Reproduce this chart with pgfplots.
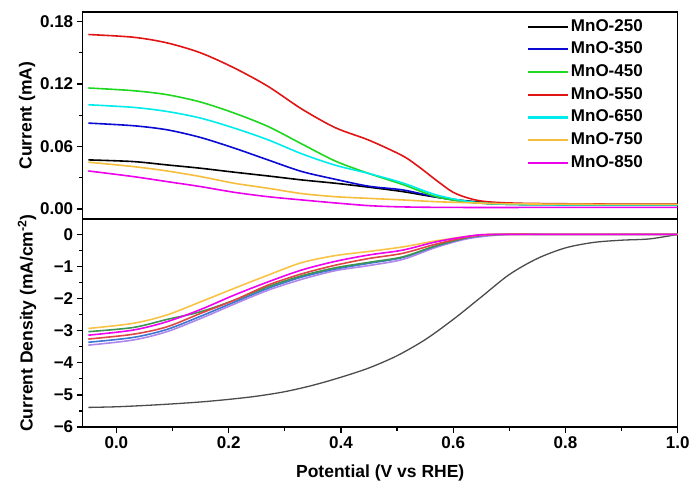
\documentclass[border=0pt]{standalone}
\usepackage{pgfplots}
\pgfplotsset{compat=1.18}
\usepackage{fontspec}
\setmainfont{Liberation Sans}

\definecolor{cblack}{RGB}{0,0,0}
\definecolor{cblue}{RGB}{10,10,210}
\definecolor{cgreen}{RGB}{30,215,30}
\definecolor{cred}{RGB}{225,20,20}
\definecolor{ccyan}{RGB}{0,235,235}
\definecolor{corange}{RGB}{245,190,60}
\definecolor{cmagenta}{RGB}{235,0,235}
% bottom panel
\definecolor{dgray}{RGB}{75,75,75}
\definecolor{dorange}{RGB}{248,195,70}
\definecolor{dgreen}{RGB}{60,150,80}
\definecolor{dmagenta}{RGB}{240,0,240}
\definecolor{dred}{RGB}{225,70,70}
\definecolor{dblue}{RGB}{60,120,210}
\definecolor{dpurple}{RGB}{175,135,235}

\pgfplotsset{
  panel/.style={
    scale only axis, width=595pt, height=207pt,
    xmin=-0.06, xmax=1.0,
    axis line style={line width=1.5pt},
    tick align=outside, tick pos=left,
    major tick length=6pt, minor tick length=3.5pt,
    every tick/.style={black, line width=1.2pt},
    ticklabel style={font=\bfseries\fontsize{17}{20}\selectfont},
    every axis y label/.style={at={(axis description cs:-0.0936,0.5)}, rotate=90, anchor=center,
      font=\bfseries\fontsize{17.5}{20}\selectfont},
    every axis x label/.style={at={(axis description cs:0.5,-0.221)}, anchor=center,
      font=\bfseries\fontsize{17.5}{20}\selectfont},
    /pgf/number format/assume math mode=true,
    every axis plot/.append style={line width=1.6pt, smooth, no markers},
  },
}

\begin{document}
\begin{tikzpicture}
\begin{axis}[panel, name=top,
  ymin=-0.0096, ymax=0.189,
  ytick={0,0.06,0.12,0.18}, minor y tick num=1,
  yticklabel style={/pgf/number format/.cd, fixed, fixed zerofill, precision=2},
  xtick=\empty,
  ylabel={Current (mA)},
  legend style={at={(axis description cs:0.95,0.988)}, anchor=north east,
    draw=none, fill=none, font=\bfseries\fontsize{17}{20}\selectfont,
    nodes={inner sep=2pt, text height=12.5pt, text depth=3.5pt}, row sep=2.7pt},
  legend cell align=left,
  legend image code/.code={\draw[#1, line width=2.1pt] (-2pt,0pt) -- (38pt,0pt);},
]
\addplot[draw=cblack] coordinates {(-0.05,0.0471) (0.03,0.0455) (0.09,0.0423) (0.15,0.0391) (0.21,0.0353) (0.27,0.0317) (0.33,0.0279) (0.39,0.0247) (0.45,0.0209) (0.51,0.0167) (0.57,0.0113) (0.63,0.0075) (0.7,0.005) (0.85,0.0045) (1.0,0.0045)};
\addlegendentry{MnO-250}
\addplot[draw=cblue] coordinates {(-0.05,0.0824) (0.03,0.0799) (0.09,0.076) (0.15,0.0686) (0.21,0.0584) (0.27,0.0471) (0.33,0.036) (0.39,0.0285) (0.45,0.0218) (0.51,0.0183) (0.57,0.0115) (0.63,0.0065) (0.7,0.0045) (0.85,0.004) (1.0,0.004)};
\addlegendentry{MnO-350}
\addplot[draw=cgreen] coordinates {(-0.05,0.1161) (0.03,0.1135) (0.09,0.1097) (0.15,0.1026) (0.21,0.092) (0.27,0.0792) (0.33,0.0625) (0.39,0.046) (0.45,0.034) (0.51,0.0235) (0.57,0.0118) (0.63,0.0065) (0.7,0.0045) (0.85,0.004) (1.0,0.004)};
\addlegendentry{MnO-450}
\addplot[draw=cred] coordinates {(-0.05,0.1674) (0.03,0.1648) (0.09,0.1594) (0.15,0.1498) (0.21,0.1353) (0.27,0.1177) (0.33,0.096) (0.39,0.078) (0.45,0.066) (0.51,0.051) (0.54,0.040) (0.57,0.0275) (0.60,0.016) (0.63,0.010) (0.66,0.007) (0.72,0.0055) (0.85,0.0048) (1.0,0.0045)};
\addlegendentry{MnO-550}
\addplot[draw=ccyan] coordinates {(-0.05,0.100) (0.03,0.0975) (0.09,0.0936) (0.15,0.0872) (0.21,0.0776) (0.27,0.0664) (0.33,0.053) (0.39,0.042) (0.45,0.034) (0.51,0.025) (0.57,0.0135) (0.63,0.007) (0.7,0.0045) (0.85,0.004) (1.0,0.004)};
\addlegendentry{MnO-650}
\addplot[draw=corange] coordinates {(-0.05,0.0449) (0.03,0.0407) (0.09,0.0365) (0.15,0.0311) (0.21,0.0247) (0.27,0.0199) (0.33,0.0148) (0.39,0.0118) (0.45,0.0102) (0.51,0.0087) (0.57,0.007) (0.63,0.006) (0.7,0.005) (0.85,0.0045) (1.0,0.0045)};
\addlegendentry{MnO-750}
\addplot[draw=cmagenta] coordinates {(-0.05,0.0365) (0.03,0.0311) (0.09,0.0263) (0.15,0.0215) (0.21,0.016) (0.27,0.0118) (0.33,0.0087) (0.39,0.0058) (0.45,0.0032) (0.51,0.002) (0.6,0.0015) (0.8,0.0015) (1.0,0.0015)};
\addlegendentry{MnO-850}
\end{axis}

\begin{axis}[panel, name=bot,
  at={([yshift=-10pt]top.south west)}, anchor=north west,
  height=208pt,
  ymin=-6, ymax=0.48,
  ytick={-6,-5,-4,-3,-2,-1,0}, minor y tick num=1,
  yticklabels={−6,−5,−4,−3,−2,−1,0},
  xtick={0,0.2,0.4,0.6,0.8,1.0}, minor x tick num=1,
  xticklabel style={/pgf/number format/.cd, fixed, fixed zerofill, precision=1},
  ylabel={Current Density (mA/cm\textsuperscript{-2})},
  xlabel={Potential (V vs RHE)},
]
\addplot[draw=dgray, line width=1.3pt] coordinates {(-0.05,-5.39) (0.0,-5.37) (0.05,-5.33) (0.1,-5.28) (0.15,-5.22) (0.2,-5.14) (0.25,-5.04) (0.3,-4.90) (0.35,-4.70) (0.40,-4.45) (0.45,-4.16) (0.50,-3.78) (0.55,-3.28) (0.60,-2.65) (0.65,-1.95) (0.70,-1.25) (0.75,-0.75) (0.80,-0.42) (0.85,-0.25) (0.90,-0.18) (0.95,-0.14) (1.0,0)};
\addplot[draw=dpurple] coordinates {(-0.05,-3.45) (0.03,-3.29) (0.09,-3.03) (0.15,-2.62) (0.21,-2.17) (0.27,-1.74) (0.33,-1.40) (0.39,-1.13) (0.45,-0.97) (0.51,-0.78) (0.57,-0.40) (0.63,-0.12) (0.70,0) (0.8,0) (1.0,0)};
\addplot[draw=dblue] coordinates {(-0.05,-3.36) (0.03,-3.21) (0.09,-2.96) (0.15,-2.55) (0.21,-2.11) (0.27,-1.68) (0.33,-1.33) (0.39,-1.08) (0.45,-0.90) (0.51,-0.72) (0.57,-0.36) (0.63,-0.09) (0.69,0) (0.8,0) (1.0,0)};
\addplot[draw=dgreen] coordinates {(-0.05,-3.03) (0.03,-2.90) (0.09,-2.65) (0.15,-2.41) (0.21,-2.05) (0.27,-1.63) (0.33,-1.29) (0.39,-1.04) (0.45,-0.87) (0.51,-0.70) (0.57,-0.35) (0.63,-0.08) (0.68,0) (0.8,0) (1.0,0)};
\addplot[draw=dred] coordinates {(-0.05,-3.26) (0.03,-3.11) (0.09,-2.88) (0.15,-2.46) (0.21,-2.05) (0.27,-1.58) (0.33,-1.23) (0.39,-0.96) (0.45,-0.75) (0.51,-0.59) (0.57,-0.30) (0.63,-0.07) (0.68,0) (0.8,0) (1.0,0)};
\addplot[draw=dorange] coordinates {(-0.05,-2.93) (0.03,-2.77) (0.09,-2.51) (0.15,-2.10) (0.21,-1.68) (0.27,-1.27) (0.33,-0.88) (0.39,-0.66) (0.45,-0.53) (0.51,-0.39) (0.57,-0.20) (0.63,-0.05) (0.67,0) (0.8,0) (1.0,0)};
\addplot[draw=dmagenta] coordinates {(-0.05,-3.14) (0.03,-2.98) (0.09,-2.72) (0.15,-2.34) (0.21,-1.89) (0.27,-1.48) (0.33,-1.11) (0.39,-0.84) (0.45,-0.64) (0.51,-0.49) (0.57,-0.23) (0.63,-0.05) (0.67,0) (0.8,0) (1.0,0)};
\end{axis}
\pgfresetboundingbox
\path ([shift={(-82.7pt,-485pt)}]top.north west) rectangle ([shift={(609.3pt,12pt)}]top.north west);
\end{tikzpicture}
\end{document}
